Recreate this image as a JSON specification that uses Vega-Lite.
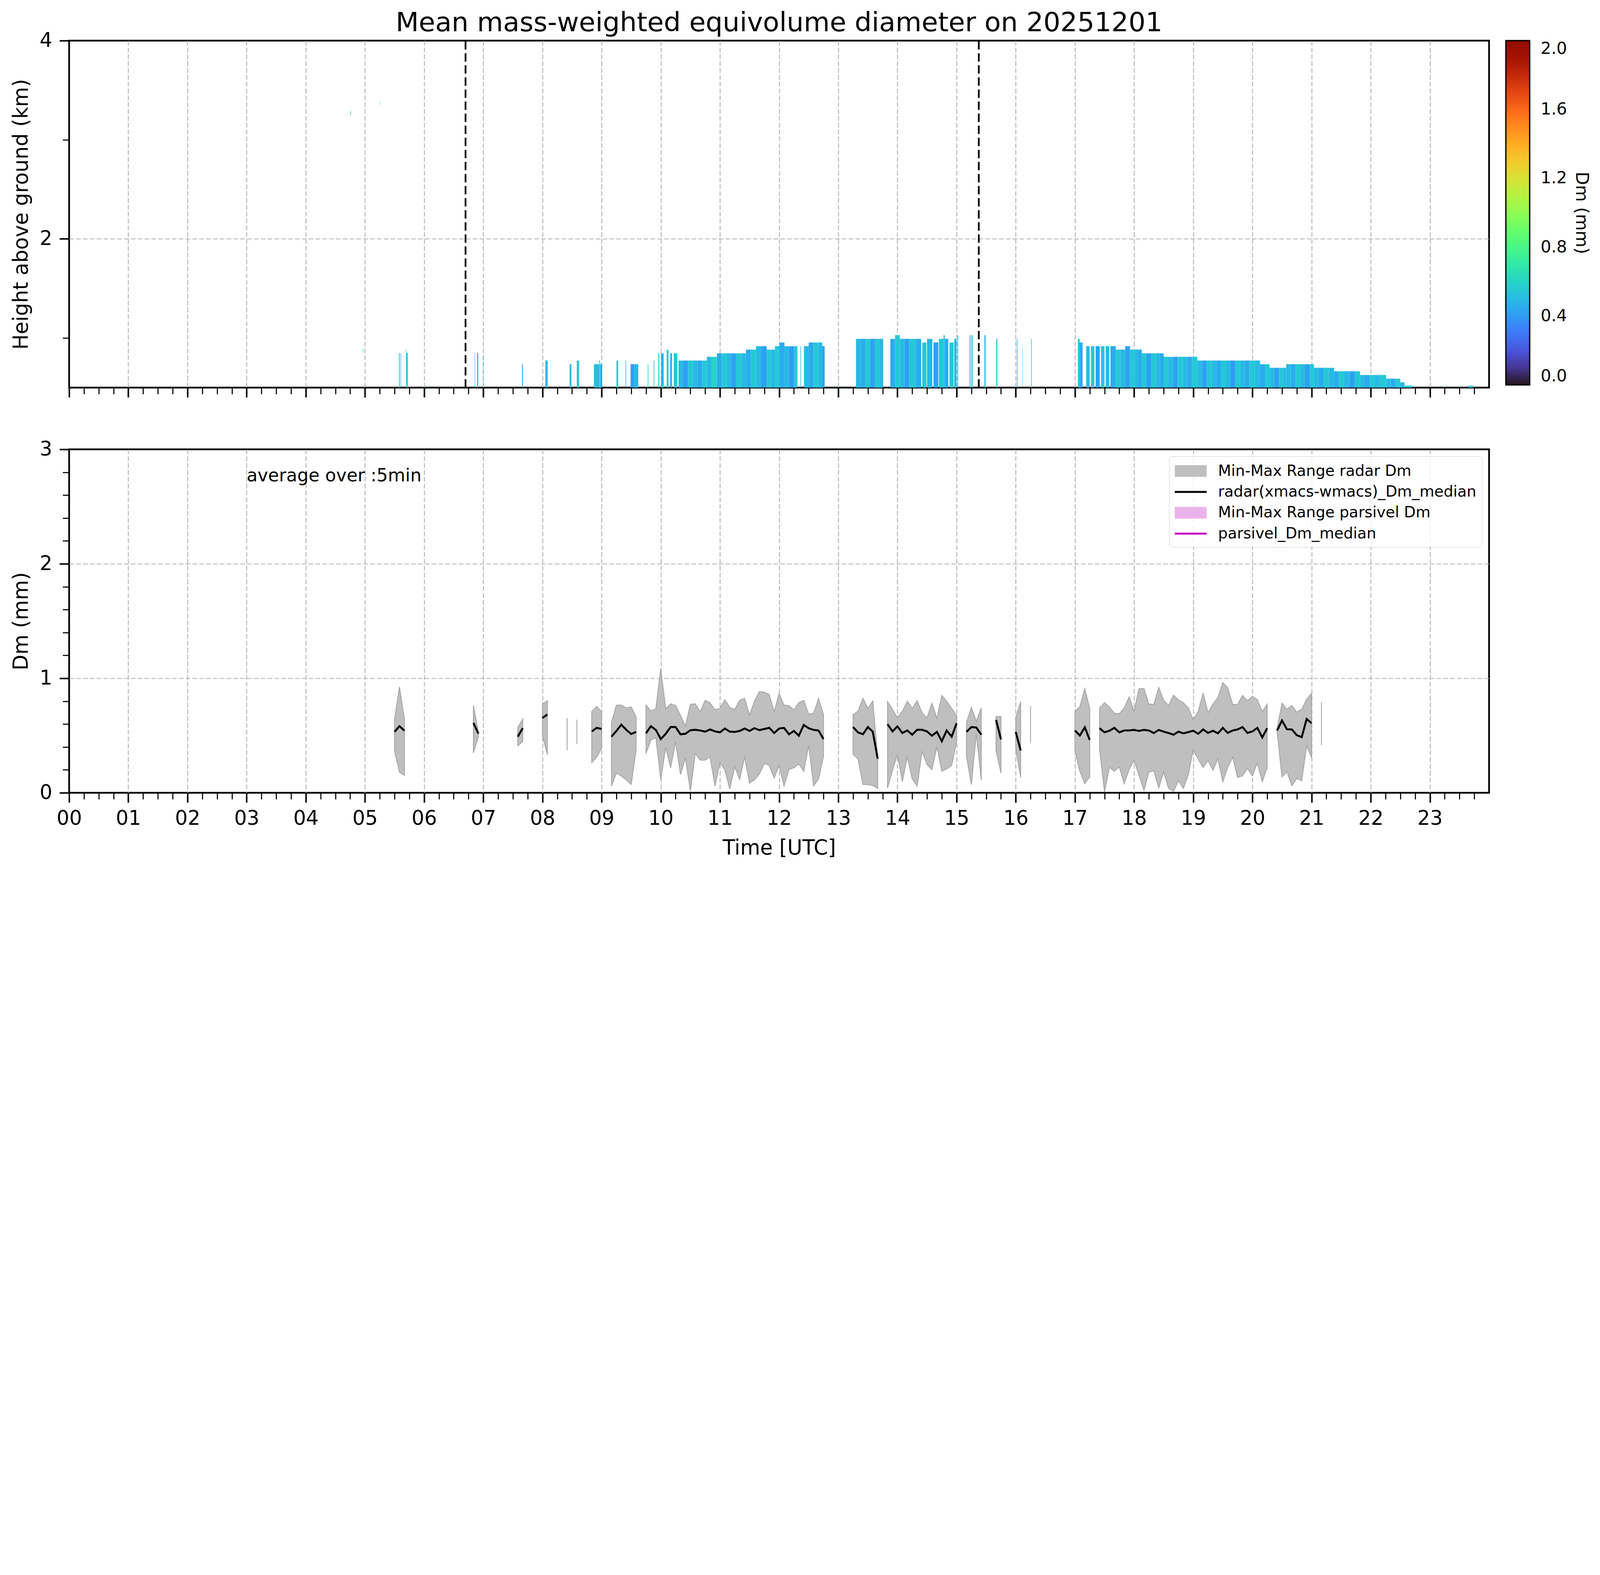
{
  "$schema": "https://vega.github.io/schema/vega-lite/v6.json",
  "padding": {"left": 25, "top": 22, "right": 5, "bottom": 5},
  "config": {
    "font": "DejaVu Sans",
    "view": {"stroke": "black", "strokeWidth": 4.4},
    "axis": {
      "labelFontSize": 51, "titleFontSize": 52.5, "titleFontWeight": "normal",
      "labelColor": "black", "titleColor": "black", "tickColor": "black",
      "tickSize": 24.8, "tickWidth": 3.9, "domain": false,
      "gridColor": "#b0b0b0", "gridDash": [12, 5.5], "gridWidth": 2.2, "gridOpacity": 1,
      "labelFlush": false, "labelOverlap": false, "zindex": 1, "labelPadding": 16.5, "grid": false
    },
    "axisY": {"labelPadding": 18.7, "titlePadding": 20, "minExtent": 76, "maxExtent": 76}
  },
  "datasets": {
    "radar": [
      {"t0":4.752,"t1":4.762,"bot":3.25,"top":3.29,"dm":0.65},
      {"t0":5.257,"t1":5.261,"bot":3.35,"top":3.39,"dm":0.5},
      {"t0":4.963,"t1":4.973,"bot":0.85,"top":0.89,"dm":0.65},
      {"t0":5.575,"t1":5.59,"bot":0.5,"top":0.85,"dm":0.62},
      {"t0":5.604,"t1":5.612,"bot":0.5,"top":0.85,"dm":0.5},
      {"t0":5.694,"t1":5.699,"bot":0.5,"top":0.89,"dm":0.42},
      {"t0":5.699,"t1":5.724,"bot":0.5,"top":0.85,"dm":0.55},
      {"t0":5.84,"t1":5.846,"bot":0.5,"top":0.52,"dm":0.55},
      {"t0":5.9,"t1":5.905,"bot":0.5,"top":0.52,"dm":0.45},
      {"t0":6.05,"t1":6.056,"bot":0.5,"top":0.52,"dm":0.55},
      {"t0":6.07,"t1":6.075,"bot":0.5,"top":0.52,"dm":0.55},
      {"t0":6.11,"t1":6.115,"bot":0.5,"top":0.52,"dm":0.6},
      {"t0":6.855,"t1":6.862,"bot":0.5,"top":0.85,"dm":0.55},
      {"t0":6.895,"t1":6.915,"bot":0.5,"top":0.85,"dm":0.52},
      {"t0":6.993,"t1":6.999,"bot":0.5,"top":0.82,"dm":0.5},
      {"t0":7.45,"t1":7.455,"bot":0.5,"top":0.52,"dm":0.55},
      {"t0":7.655,"t1":7.67,"bot":0.5,"top":0.736,"dm":0.45},
      {"t0":8.05,"t1":8.07,"bot":0.5,"top":0.773,"dm":0.42},
      {"t0":8.07,"t1":8.09,"bot":0.5,"top":0.773,"dm":0.55},
      {"t0":8.25,"t1":8.255,"bot":0.5,"top":0.52,"dm":0.55},
      {"t0":8.34,"t1":8.345,"bot":0.5,"top":0.52,"dm":0.45},
      {"t0":8.46,"t1":8.49,"bot":0.5,"top":0.736,"dm":0.5},
      {"t0":8.58,"t1":8.62,"bot":0.5,"top":0.773,"dm":0.55},
      {"t0":8.87,"t1":8.96,"bot":0.5,"top":0.736,"dm":0.52},
      {"t0":8.96,"t1":8.975,"bot":0.5,"top":0.773,"dm":0.68},
      {"t0":8.975,"t1":9.01,"bot":0.5,"top":0.736,"dm":0.45},
      {"t0":9.25,"t1":9.28,"bot":0.5,"top":0.773,"dm":0.6},
      {"t0":9.405,"t1":9.415,"bot":0.5,"top":0.773,"dm":0.5},
      {"t0":9.49,"t1":9.55,"bot":0.5,"top":0.736,"dm":0.4},
      {"t0":9.55,"t1":9.62,"bot":0.5,"top":0.736,"dm":0.5},
      {"t0":9.78,"t1":9.79,"bot":0.5,"top":0.736,"dm":0.55},
      {"t0":9.88,"t1":9.89,"bot":0.5,"top":0.773,"dm":0.5},
      {"t0":9.958,"t1":9.976,"bot":0.5,"top":0.846,"dm":0.6},
      {"t0":10.005,"t1":10.05,"bot":0.5,"top":0.846,"dm":0.5},
      {"t0":10.1,"t1":10.13,"bot":0.5,"top":0.883,"dm":0.55},
      {"t0":10.16,"t1":10.19,"bot":0.5,"top":0.846,"dm":0.45},
      {"t0":10.22,"t1":10.28,"bot":0.5,"top":0.846,"dm":0.55},
      {"t0":10.3,"t1":10.38,"bot":0.5,"top":0.773,"dm":0.5},
      {"t0":10.38,"t1":10.46,"bot":0.5,"top":0.773,"dm":0.42},
      {"t0":10.46,"t1":10.54,"bot":0.5,"top":0.773,"dm":0.55},
      {"t0":10.54,"t1":10.62,"bot":0.5,"top":0.773,"dm":0.5},
      {"t0":10.62,"t1":10.7,"bot":0.5,"top":0.773,"dm":0.45},
      {"t0":10.7,"t1":10.78,"bot":0.5,"top":0.773,"dm":0.55},
      {"t0":10.78,"t1":10.86,"bot":0.5,"top":0.81,"dm":0.5},
      {"t0":10.86,"t1":10.95,"bot":0.5,"top":0.81,"dm":0.6},
      {"t0":10.95,"t1":11.03,"bot":0.5,"top":0.846,"dm":0.45},
      {"t0":11.03,"t1":11.11,"bot":0.5,"top":0.846,"dm":0.55},
      {"t0":11.11,"t1":11.19,"bot":0.5,"top":0.846,"dm":0.5},
      {"t0":11.19,"t1":11.27,"bot":0.5,"top":0.846,"dm":0.42},
      {"t0":11.27,"t1":11.36,"bot":0.5,"top":0.846,"dm":0.55},
      {"t0":11.36,"t1":11.44,"bot":0.5,"top":0.846,"dm":0.5},
      {"t0":11.44,"t1":11.52,"bot":0.5,"top":0.883,"dm":0.45},
      {"t0":11.52,"t1":11.61,"bot":0.5,"top":0.883,"dm":0.55},
      {"t0":11.61,"t1":11.7,"bot":0.5,"top":0.918,"dm":0.5},
      {"t0":11.7,"t1":11.79,"bot":0.5,"top":0.918,"dm":0.42},
      {"t0":11.79,"t1":11.86,"bot":0.5,"top":0.883,"dm":0.55},
      {"t0":11.86,"t1":11.93,"bot":0.5,"top":0.883,"dm":0.5},
      {"t0":11.93,"t1":12.01,"bot":0.5,"top":0.918,"dm":0.55},
      {"t0":12.01,"t1":12.09,"bot":0.5,"top":0.955,"dm":0.45},
      {"t0":12.09,"t1":12.17,"bot":0.5,"top":0.918,"dm":0.5},
      {"t0":12.17,"t1":12.25,"bot":0.5,"top":0.918,"dm":0.4},
      {"t0":12.25,"t1":12.31,"bot":0.5,"top":0.918,"dm":0.55},
      {"t0":12.36,"t1":12.37,"bot":0.5,"top":0.918,"dm":0.5},
      {"t0":12.42,"t1":12.5,"bot":0.5,"top":0.918,"dm":0.5},
      {"t0":12.5,"t1":12.58,"bot":0.5,"top":0.955,"dm":0.45},
      {"t0":12.58,"t1":12.66,"bot":0.5,"top":0.955,"dm":0.55},
      {"t0":12.66,"t1":12.73,"bot":0.5,"top":0.955,"dm":0.5},
      {"t0":12.73,"t1":12.77,"bot":0.5,"top":0.918,"dm":0.42},
      {"t0":12.98,"t1":12.99,"bot":0.5,"top":0.52,"dm":0.55},
      {"t0":13.05,"t1":13.055,"bot":0.5,"top":0.52,"dm":0.5},
      {"t0":13.11,"t1":13.115,"bot":0.5,"top":0.52,"dm":0.55},
      {"t0":13.3,"t1":13.38,"bot":0.5,"top":0.992,"dm":0.5},
      {"t0":13.38,"t1":13.46,"bot":0.5,"top":0.992,"dm":0.45},
      {"t0":13.46,"t1":13.54,"bot":0.5,"top":0.992,"dm":0.55},
      {"t0":13.54,"t1":13.62,"bot":0.5,"top":0.992,"dm":0.42},
      {"t0":13.62,"t1":13.7,"bot":0.5,"top":0.992,"dm":0.55},
      {"t0":13.7,"t1":13.76,"bot":0.5,"top":0.992,"dm":0.5},
      {"t0":13.88,"t1":13.96,"bot":0.5,"top":0.992,"dm":0.45},
      {"t0":13.96,"t1":14.04,"bot":0.5,"top":1.029,"dm":0.55},
      {"t0":14.04,"t1":14.12,"bot":0.5,"top":0.992,"dm":0.5},
      {"t0":14.12,"t1":14.2,"bot":0.5,"top":0.992,"dm":0.42},
      {"t0":14.2,"t1":14.31,"bot":0.5,"top":0.992,"dm":0.55},
      {"t0":14.31,"t1":14.4,"bot":0.5,"top":0.992,"dm":0.45},
      {"t0":14.42,"t1":14.49,"bot":0.5,"top":0.955,"dm":0.55},
      {"t0":14.5,"t1":14.59,"bot":0.5,"top":0.992,"dm":0.5},
      {"t0":14.61,"t1":14.69,"bot":0.5,"top":0.955,"dm":0.42},
      {"t0":14.7,"t1":14.78,"bot":0.5,"top":0.992,"dm":0.55},
      {"t0":14.78,"t1":14.8,"bot":0.5,"top":1.029,"dm":0.5},
      {"t0":14.8,"t1":14.86,"bot":0.5,"top":0.992,"dm":0.45},
      {"t0":14.88,"t1":14.95,"bot":0.5,"top":0.955,"dm":0.55},
      {"t0":14.96,"t1":15.0,"bot":0.5,"top":0.992,"dm":0.5},
      {"t0":15.015,"t1":15.025,"bot":0.5,"top":1.029,"dm":0.45},
      {"t0":15.22,"t1":15.235,"bot":0.5,"top":1.029,"dm":0.5},
      {"t0":15.25,"t1":15.27,"bot":0.5,"top":1.029,"dm":0.55},
      {"t0":15.47,"t1":15.49,"bot":0.5,"top":1.029,"dm":0.5},
      {"t0":15.67,"t1":15.69,"bot":0.5,"top":0.992,"dm":0.55},
      {"t0":16.02,"t1":16.03,"bot":0.5,"top":0.992,"dm":0.5},
      {"t0":16.11,"t1":16.115,"bot":0.5,"top":0.9,"dm":0.5},
      {"t0":16.26,"t1":16.27,"bot":0.5,"top":0.992,"dm":0.55},
      {"t0":16.43,"t1":16.435,"bot":0.5,"top":0.52,"dm":0.5},
      {"t0":16.65,"t1":16.655,"bot":0.5,"top":0.52,"dm":0.45},
      {"t0":17.05,"t1":17.08,"bot":0.5,"top":0.992,"dm":0.55},
      {"t0":17.08,"t1":17.13,"bot":0.5,"top":0.955,"dm":0.45},
      {"t0":17.19,"t1":17.25,"bot":0.5,"top":0.918,"dm":0.5},
      {"t0":17.27,"t1":17.33,"bot":0.5,"top":0.918,"dm":0.55},
      {"t0":17.35,"t1":17.42,"bot":0.5,"top":0.918,"dm":0.42},
      {"t0":17.44,"t1":17.5,"bot":0.5,"top":0.918,"dm":0.55},
      {"t0":17.52,"t1":17.58,"bot":0.5,"top":0.918,"dm":0.5},
      {"t0":17.6,"t1":17.69,"bot":0.5,"top":0.918,"dm":0.45},
      {"t0":17.69,"t1":17.77,"bot":0.5,"top":0.883,"dm":0.55},
      {"t0":17.77,"t1":17.85,"bot":0.5,"top":0.883,"dm":0.5},
      {"t0":17.85,"t1":17.93,"bot":0.5,"top":0.918,"dm":0.42},
      {"t0":17.93,"t1":18.01,"bot":0.5,"top":0.883,"dm":0.55},
      {"t0":18.01,"t1":18.07,"bot":0.5,"top":0.883,"dm":0.5},
      {"t0":18.07,"t1":18.13,"bot":0.5,"top":0.883,"dm":0.45},
      {"t0":18.13,"t1":18.21,"bot":0.5,"top":0.846,"dm":0.55},
      {"t0":18.21,"t1":18.29,"bot":0.5,"top":0.846,"dm":0.42},
      {"t0":18.29,"t1":18.37,"bot":0.5,"top":0.846,"dm":0.55},
      {"t0":18.37,"t1":18.44,"bot":0.5,"top":0.846,"dm":0.5},
      {"t0":18.44,"t1":18.5,"bot":0.5,"top":0.846,"dm":0.45},
      {"t0":18.5,"t1":18.58,"bot":0.5,"top":0.81,"dm":0.55},
      {"t0":18.58,"t1":18.66,"bot":0.5,"top":0.81,"dm":0.5},
      {"t0":18.66,"t1":18.74,"bot":0.5,"top":0.81,"dm":0.42},
      {"t0":18.74,"t1":18.82,"bot":0.5,"top":0.81,"dm":0.55},
      {"t0":18.82,"t1":18.9,"bot":0.5,"top":0.81,"dm":0.5},
      {"t0":18.9,"t1":18.98,"bot":0.5,"top":0.81,"dm":0.45},
      {"t0":18.98,"t1":19.07,"bot":0.5,"top":0.81,"dm":0.55},
      {"t0":19.07,"t1":19.15,"bot":0.5,"top":0.773,"dm":0.5},
      {"t0":19.15,"t1":19.23,"bot":0.5,"top":0.773,"dm":0.42},
      {"t0":19.23,"t1":19.31,"bot":0.5,"top":0.773,"dm":0.55},
      {"t0":19.31,"t1":19.39,"bot":0.5,"top":0.773,"dm":0.5},
      {"t0":19.39,"t1":19.47,"bot":0.5,"top":0.773,"dm":0.45},
      {"t0":19.47,"t1":19.55,"bot":0.5,"top":0.773,"dm":0.55},
      {"t0":19.55,"t1":19.63,"bot":0.5,"top":0.773,"dm":0.5},
      {"t0":19.63,"t1":19.71,"bot":0.5,"top":0.773,"dm":0.4},
      {"t0":19.71,"t1":19.79,"bot":0.5,"top":0.773,"dm":0.55},
      {"t0":19.79,"t1":19.87,"bot":0.5,"top":0.773,"dm":0.5},
      {"t0":19.87,"t1":19.95,"bot":0.5,"top":0.773,"dm":0.45},
      {"t0":19.95,"t1":20.04,"bot":0.5,"top":0.773,"dm":0.55},
      {"t0":20.04,"t1":20.13,"bot":0.5,"top":0.773,"dm":0.5},
      {"t0":20.13,"t1":20.21,"bot":0.5,"top":0.736,"dm":0.45},
      {"t0":20.21,"t1":20.29,"bot":0.5,"top":0.736,"dm":0.55},
      {"t0":20.29,"t1":20.37,"bot":0.5,"top":0.7,"dm":0.5},
      {"t0":20.37,"t1":20.45,"bot":0.5,"top":0.7,"dm":0.42},
      {"t0":20.45,"t1":20.51,"bot":0.5,"top":0.7,"dm":0.55},
      {"t0":20.51,"t1":20.57,"bot":0.5,"top":0.7,"dm":0.5},
      {"t0":20.57,"t1":20.65,"bot":0.5,"top":0.736,"dm":0.5},
      {"t0":20.65,"t1":20.73,"bot":0.5,"top":0.736,"dm":0.45},
      {"t0":20.73,"t1":20.81,"bot":0.5,"top":0.736,"dm":0.55},
      {"t0":20.81,"t1":20.89,"bot":0.5,"top":0.736,"dm":0.5},
      {"t0":20.89,"t1":20.97,"bot":0.5,"top":0.736,"dm":0.42},
      {"t0":20.97,"t1":21.04,"bot":0.5,"top":0.736,"dm":0.55},
      {"t0":21.04,"t1":21.12,"bot":0.5,"top":0.7,"dm":0.5},
      {"t0":21.12,"t1":21.2,"bot":0.5,"top":0.7,"dm":0.45},
      {"t0":21.2,"t1":21.29,"bot":0.5,"top":0.7,"dm":0.55},
      {"t0":21.29,"t1":21.38,"bot":0.5,"top":0.7,"dm":0.5},
      {"t0":21.38,"t1":21.46,"bot":0.5,"top":0.665,"dm":0.45},
      {"t0":21.46,"t1":21.55,"bot":0.5,"top":0.665,"dm":0.55},
      {"t0":21.55,"t1":21.64,"bot":0.5,"top":0.665,"dm":0.5},
      {"t0":21.64,"t1":21.73,"bot":0.5,"top":0.665,"dm":0.42},
      {"t0":21.73,"t1":21.82,"bot":0.5,"top":0.665,"dm":0.55},
      {"t0":21.82,"t1":21.9,"bot":0.5,"top":0.627,"dm":0.5},
      {"t0":21.9,"t1":21.98,"bot":0.5,"top":0.627,"dm":0.45},
      {"t0":21.98,"t1":22.06,"bot":0.5,"top":0.627,"dm":0.55},
      {"t0":22.06,"t1":22.15,"bot":0.5,"top":0.627,"dm":0.5},
      {"t0":22.15,"t1":22.26,"bot":0.5,"top":0.627,"dm":0.55},
      {"t0":22.26,"t1":22.34,"bot":0.5,"top":0.59,"dm":0.5},
      {"t0":22.34,"t1":22.42,"bot":0.5,"top":0.59,"dm":0.45},
      {"t0":22.42,"t1":22.5,"bot":0.5,"top":0.59,"dm":0.55},
      {"t0":22.5,"t1":22.57,"bot":0.5,"top":0.554,"dm":0.5},
      {"t0":22.57,"t1":22.7,"bot":0.5,"top":0.52,"dm":0.55},
      {"t0":23.17,"t1":23.18,"bot":0.5,"top":0.52,"dm":0.45},
      {"t0":23.3,"t1":23.305,"bot":0.5,"top":0.52,"dm":0.55},
      {"t0":23.45,"t1":23.455,"bot":0.5,"top":0.52,"dm":0.6},
      {"t0":23.55,"t1":23.555,"bot":0.5,"top":0.52,"dm":0.5},
      {"t0":23.65,"t1":23.73,"bot":0.5,"top":0.52,"dm":0.55}
    ],
    "events": [{"t": 6.7}, {"t": 15.375}],
    "note": [{"label": "average over :5min"}],
    "dm5": [
      {"seg":"A","t":5.5,"lo":0.364,"med":0.532,"hi":0.641},
      {"seg":"A","t":5.583,"lo":0.18,"med":0.582,"hi":0.925},
      {"seg":"A","t":5.667,"lo":0.151,"med":0.542,"hi":0.645},
      {"seg":"B","t":6.833,"lo":0.348,"med":0.611,"hi":0.762},
      {"seg":"B","t":6.917,"lo":0.49,"med":0.517,"hi":0.53},
      {"seg":"C","t":7.583,"lo":0.41,"med":0.49,"hi":0.57},
      {"seg":"C","t":7.667,"lo":0.448,"med":0.565,"hi":0.645},
      {"seg":"D","t":8.0,"lo":0.498,"med":0.653,"hi":0.775},
      {"seg":"D","t":8.083,"lo":0.335,"med":0.684,"hi":0.804},
      {"seg":"S1","t":8.417,"lo":0.371,"hi":0.652},
      {"seg":"S2","t":8.583,"lo":0.425,"hi":0.639},
      {"seg":"E","t":8.833,"lo":0.264,"med":0.536,"hi":0.709},
      {"seg":"E","t":8.917,"lo":0.31,"med":0.567,"hi":0.754},
      {"seg":"E","t":9.0,"lo":0.389,"med":0.557,"hi":0.708},
      {"seg":"F","t":9.167,"lo":0.059,"med":0.49,"hi":0.616},
      {"seg":"F","t":9.25,"lo":0.172,"med":0.54,"hi":0.765},
      {"seg":"F","t":9.333,"lo":0.147,"med":0.595,"hi":0.766},
      {"seg":"F","t":9.417,"lo":0.113,"med":0.55,"hi":0.741},
      {"seg":"F","t":9.5,"lo":0.073,"med":0.513,"hi":0.75},
      {"seg":"F","t":9.583,"lo":0.373,"med":0.532,"hi":0.662},
      {"seg":"G","t":9.75,"lo":0.343,"med":0.519,"hi":0.766},
      {"seg":"G","t":9.833,"lo":0.461,"med":0.582,"hi":0.716},
      {"seg":"G","t":9.917,"lo":0.482,"med":0.549,"hi":0.733},
      {"seg":"G","t":10.0,"lo":0.117,"med":0.469,"hi":1.086},
      {"seg":"G","t":10.083,"lo":0.394,"med":0.515,"hi":0.733},
      {"seg":"G","t":10.167,"lo":0.218,"med":0.574,"hi":0.777},
      {"seg":"G","t":10.25,"lo":0.448,"med":0.574,"hi":0.762},
      {"seg":"G","t":10.333,"lo":0.159,"med":0.511,"hi":0.674},
      {"seg":"G","t":10.417,"lo":0.302,"med":0.515,"hi":0.582},
      {"seg":"G","t":10.5,"lo":0.017,"med":0.546,"hi":0.773},
      {"seg":"G","t":10.583,"lo":0.343,"med":0.55,"hi":0.777},
      {"seg":"G","t":10.667,"lo":0.285,"med":0.544,"hi":0.709},
      {"seg":"G","t":10.75,"lo":0.285,"med":0.534,"hi":0.807},
      {"seg":"G","t":10.833,"lo":0.314,"med":0.553,"hi":0.786},
      {"seg":"G","t":10.917,"lo":0.059,"med":0.536,"hi":0.724},
      {"seg":"G","t":11.0,"lo":0.264,"med":0.528,"hi":0.737},
      {"seg":"G","t":11.083,"lo":0.197,"med":0.561,"hi":0.812},
      {"seg":"G","t":11.167,"lo":0.034,"med":0.534,"hi":0.745},
      {"seg":"G","t":11.25,"lo":0.226,"med":0.532,"hi":0.729},
      {"seg":"G","t":11.333,"lo":0.117,"med":0.54,"hi":0.808},
      {"seg":"G","t":11.417,"lo":0.314,"med":0.561,"hi":0.825},
      {"seg":"G","t":11.5,"lo":0.084,"med":0.54,"hi":0.678},
      {"seg":"G","t":11.583,"lo":0.113,"med":0.564,"hi":0.8},
      {"seg":"G","t":11.667,"lo":0.163,"med":0.547,"hi":0.884},
      {"seg":"G","t":11.75,"lo":0.255,"med":0.557,"hi":0.879},
      {"seg":"G","t":11.833,"lo":0.239,"med":0.567,"hi":0.858},
      {"seg":"G","t":11.917,"lo":0.13,"med":0.522,"hi":0.708},
      {"seg":"G","t":12.0,"lo":0.239,"med":0.561,"hi":0.867},
      {"seg":"G","t":12.083,"lo":0.059,"med":0.567,"hi":0.766},
      {"seg":"G","t":12.167,"lo":0.205,"med":0.511,"hi":0.762},
      {"seg":"G","t":12.25,"lo":0.218,"med":0.54,"hi":0.724},
      {"seg":"G","t":12.333,"lo":0.251,"med":0.498,"hi":0.787},
      {"seg":"G","t":12.417,"lo":0.188,"med":0.592,"hi":0.807},
      {"seg":"G","t":12.5,"lo":0.415,"med":0.564,"hi":0.687},
      {"seg":"G","t":12.583,"lo":0.059,"med":0.549,"hi":0.693},
      {"seg":"G","t":12.667,"lo":0.121,"med":0.544,"hi":0.823},
      {"seg":"G","t":12.75,"lo":0.318,"med":0.469,"hi":0.683},
      {"seg":"H","t":13.25,"lo":0.335,"med":0.574,"hi":0.683},
      {"seg":"H","t":13.333,"lo":0.297,"med":0.528,"hi":0.712},
      {"seg":"H","t":13.417,"lo":0.073,"med":0.511,"hi":0.825},
      {"seg":"H","t":13.5,"lo":0.071,"med":0.574,"hi":0.737},
      {"seg":"H","t":13.583,"lo":0.063,"med":0.534,"hi":0.802},
      {"seg":"H","t":13.667,"lo":0.038,"med":0.297,"hi":0.306},
      {"seg":"I","t":13.833,"lo":0.042,"med":0.599,"hi":0.796},
      {"seg":"I","t":13.917,"lo":0.197,"med":0.536,"hi":0.729},
      {"seg":"I","t":14.0,"lo":0.335,"med":0.58,"hi":0.657},
      {"seg":"I","t":14.083,"lo":0.096,"med":0.522,"hi":0.712},
      {"seg":"I","t":14.167,"lo":0.314,"med":0.544,"hi":0.8},
      {"seg":"I","t":14.25,"lo":0.121,"med":0.507,"hi":0.737},
      {"seg":"I","t":14.333,"lo":0.059,"med":0.55,"hi":0.804},
      {"seg":"I","t":14.417,"lo":0.36,"med":0.55,"hi":0.699},
      {"seg":"I","t":14.5,"lo":0.247,"med":0.536,"hi":0.653},
      {"seg":"I","t":14.583,"lo":0.201,"med":0.498,"hi":0.783},
      {"seg":"I","t":14.667,"lo":0.402,"med":0.532,"hi":0.649},
      {"seg":"I","t":14.75,"lo":0.188,"med":0.45,"hi":0.85},
      {"seg":"I","t":14.833,"lo":0.209,"med":0.544,"hi":0.8},
      {"seg":"I","t":14.917,"lo":0.239,"med":0.49,"hi":0.737},
      {"seg":"I","t":15.0,"lo":0.448,"med":0.607,"hi":0.674},
      {"seg":"J","t":15.167,"lo":0.322,"med":0.532,"hi":0.616},
      {"seg":"J","t":15.25,"lo":0.071,"med":0.574,"hi":0.745},
      {"seg":"J","t":15.333,"lo":0.515,"med":0.57,"hi":0.624},
      {"seg":"J","t":15.417,"lo":0.113,"med":0.507,"hi":0.741},
      {"seg":"K","t":15.667,"lo":0.369,"med":0.637,"hi":0.666},
      {"seg":"K","t":15.75,"lo":0.172,"med":0.466,"hi":0.666},
      {"seg":"L","t":16.0,"lo":0.385,"med":0.532,"hi":0.657},
      {"seg":"L","t":16.083,"lo":0.134,"med":0.369,"hi":0.796},
      {"seg":"S3","t":16.25,"lo":0.44,"hi":0.758},
      {"seg":"M","t":17.0,"lo":0.364,"med":0.544,"hi":0.712},
      {"seg":"M","t":17.083,"lo":0.188,"med":0.5,"hi":0.75},
      {"seg":"M","t":17.167,"lo":0.08,"med":0.572,"hi":0.909},
      {"seg":"M","t":17.25,"lo":0.138,"med":0.461,"hi":0.737},
      {"seg":"N","t":17.417,"lo":0.377,"med":0.564,"hi":0.741},
      {"seg":"N","t":17.5,"lo":0.008,"med":0.528,"hi":0.787},
      {"seg":"N","t":17.583,"lo":0.222,"med":0.542,"hi":0.75},
      {"seg":"N","t":17.667,"lo":0.188,"med":0.567,"hi":0.693},
      {"seg":"N","t":17.75,"lo":0.226,"med":0.528,"hi":0.691},
      {"seg":"N","t":17.833,"lo":0.08,"med":0.544,"hi":0.741},
      {"seg":"N","t":17.917,"lo":0.205,"med":0.544,"hi":0.838},
      {"seg":"N","t":18.0,"lo":0.281,"med":0.549,"hi":0.712},
      {"seg":"N","t":18.083,"lo":0.155,"med":0.54,"hi":0.909},
      {"seg":"N","t":18.167,"lo":0.021,"med":0.549,"hi":0.91},
      {"seg":"N","t":18.25,"lo":0.18,"med":0.544,"hi":0.775},
      {"seg":"N","t":18.333,"lo":0.193,"med":0.522,"hi":0.771},
      {"seg":"N","t":18.417,"lo":0.042,"med":0.549,"hi":0.92},
      {"seg":"N","t":18.5,"lo":0.18,"med":0.534,"hi":0.808},
      {"seg":"N","t":18.583,"lo":0.038,"med":0.522,"hi":0.762},
      {"seg":"N","t":18.667,"lo":0.013,"med":0.507,"hi":0.852},
      {"seg":"N","t":18.75,"lo":0.105,"med":0.534,"hi":0.812},
      {"seg":"N","t":18.833,"lo":0.038,"med":0.519,"hi":0.787},
      {"seg":"N","t":18.917,"lo":0.159,"med":0.53,"hi":0.741},
      {"seg":"N","t":19.0,"lo":0.377,"med":0.542,"hi":0.637},
      {"seg":"N","t":19.083,"lo":0.293,"med":0.515,"hi":0.708},
      {"seg":"N","t":19.167,"lo":0.222,"med":0.553,"hi":0.871},
      {"seg":"N","t":19.25,"lo":0.281,"med":0.523,"hi":0.699},
      {"seg":"N","t":19.333,"lo":0.197,"med":0.542,"hi":0.775},
      {"seg":"N","t":19.417,"lo":0.297,"med":0.519,"hi":0.833},
      {"seg":"N","t":19.5,"lo":0.096,"med":0.567,"hi":0.963},
      {"seg":"N","t":19.583,"lo":0.222,"med":0.523,"hi":0.917},
      {"seg":"N","t":19.667,"lo":0.31,"med":0.544,"hi":0.771},
      {"seg":"N","t":19.75,"lo":0.134,"med":0.553,"hi":0.771},
      {"seg":"N","t":19.833,"lo":0.147,"med":0.574,"hi":0.85},
      {"seg":"N","t":19.917,"lo":0.214,"med":0.523,"hi":0.804},
      {"seg":"N","t":20.0,"lo":0.147,"med":0.536,"hi":0.842},
      {"seg":"N","t":20.083,"lo":0.26,"med":0.567,"hi":0.812},
      {"seg":"N","t":20.167,"lo":0.096,"med":0.483,"hi":0.708},
      {"seg":"N","t":20.25,"lo":0.222,"med":0.564,"hi":0.775},
      {"seg":"O","t":20.417,"lo":0.536,"med":0.544,"hi":0.557},
      {"seg":"O","t":20.5,"lo":0.138,"med":0.632,"hi":0.783},
      {"seg":"O","t":20.583,"lo":0.184,"med":0.555,"hi":0.729},
      {"seg":"O","t":20.667,"lo":0.063,"med":0.553,"hi":0.762},
      {"seg":"O","t":20.75,"lo":0.126,"med":0.503,"hi":0.704},
      {"seg":"O","t":20.833,"lo":0.105,"med":0.486,"hi":0.729},
      {"seg":"O","t":20.917,"lo":0.41,"med":0.645,"hi":0.817},
      {"seg":"O","t":21.0,"lo":0.306,"med":0.607,"hi":0.868},
      {"seg":"S4","t":21.167,"lo":0.415,"hi":0.791}
    ]
  },
  "spacing": 158,
  "bounds": "flush",
  "resolve": {"scale": {"color": "independent", "shape": "independent"}, "legend": {"color": "independent", "shape": "independent"}},
  "vconcat": [
    {
      "width": 3635,
      "height": 888,
      "title": {"text": "Mean mass-weighted equivolume diameter on 20251201", "fontSize": 68.5, "fontWeight": "normal", "color": "black", "anchor": "middle", "frame": "group", "offset": -16},
      "layer": [
        {
          "data": {"name": "radar"},
          "mark": {"type": "rect"},
          "encoding": {
            "x": {"field": "t0", "type": "quantitative", "scale": {"domain": [0, 24], "nice": false, "zero": false},
              "axis": {"orient": "bottom", "values": [1,2,3,4,5,6,7,8,9,10,11,12,13,14,15,16,17,18,19,20,21,22,23], "labels": false, "title": null, "grid": true}},
            "x2": {"field": "t1"},
            "y": {"field": "bot", "type": "quantitative", "scale": {"domain": [0.5, 4], "nice": false, "zero": false},
              "axis": {"orient": "left", "values": [2], "title": "Height above ground (km)", "grid": true}},
            "y2": {"field": "top"},
            "color": {"field": "dm", "type": "quantitative", "scale": {"scheme": "turbo", "domain": [0, 2]},
              "legend": {"orient": "right", "offset": 43, "direction": "vertical", "gradientLength": 881, "gradientThickness": 61,
                "values": [0, 0.4, 0.8, 1.2, 1.6, 2.0], "format": ".1f", "labelFontSize": 42.5, "labelOffset": 28, "labelOverlap": false, "labelColor": "black",
                "title": "Dm (mm)", "titleOrient": "right", "titleLimit": 1000, "titleFontSize": 44, "titleFontWeight": "normal", "titleColor": "black", "titleAnchor": "middle", "titlePadding": 14,
                "gradientStrokeColor": "black", "gradientStrokeWidth": 3.3}}
          }
        },
        {
          "data": {"name": "events"},
          "transform": [{"filter": "datum.t < 12"}],
          "mark": {"type": "rule", "color": "black", "strokeWidth": 4.4, "strokeDash": [21.5, 9.4]},
          "encoding": {
            "x": {"field": "t", "type": "quantitative",
              "axis": {"orient": "bottom", "values": [0.25,0.5,0.75,1.25,1.5,1.75,2.25,2.5,2.75,3.25,3.5,3.75,4.25,4.5,4.75,5.25,5.5,5.75,6.25,6.5,6.75,7.25,7.5,7.75,8.25,8.5,8.75,9.25,9.5,9.75,10.25,10.5,10.75,11.25,11.5,11.75,12.25,12.5,12.75,13.25,13.5,13.75,14.25,14.5,14.75,15.25,15.5,15.75,16.25,16.5,16.75,17.25,17.5,17.75,18.25,18.5,18.75,19.25,19.5,19.75,20.25,20.5,20.75,21.25,21.5,21.75,22.25,22.5,22.75,23.25,23.5,23.75], "labels": false, "title": null, "tickSize": 16.5, "tickWidth": 2.75}},
            "y": {"datum": 0.5, "type": "quantitative",
              "axis": {"orient": "left", "values": [1, 3], "labels": false, "title": null, "tickSize": 16.5, "tickWidth": 2.75}},
            "y2": {"datum": 4}
          }
        },
        {
          "data": {"name": "events"},
          "transform": [{"filter": "datum.t >= 12"}],
          "mark": {"type": "rule", "color": "black", "strokeWidth": 4.4, "strokeDash": [21.5, 9.4]},
          "encoding": {
            "x": {"field": "t", "type": "quantitative",
              "axis": {"orient": "bottom", "values": [0], "labels": false, "title": null}},
            "y": {"datum": 0.5, "type": "quantitative",
              "axis": {"orient": "left", "values": [4], "title": null}},
            "y2": {"datum": 4}
          }
        }
      ],
      "resolve": {"axis": {"x": "independent", "y": "independent"}}
    },
    {
      "width": 3635,
      "height": 879,
      "layer": [
        {
          "data": {"name": "dm5"},
          "transform": [{"joinaggregate": [{"op": "count", "as": "n"}], "groupby": ["seg"]}, {"filter": "datum.n > 1"}],
          "mark": {"type": "area", "stroke": "#a6a6a6", "strokeWidth": 2.2},
          "encoding": {
            "x": {"field": "t", "type": "quantitative", "scale": {"domain": [0, 24], "nice": false, "zero": false},
              "axis": {"orient": "bottom", "values": [1,2,3,4,5,6,7,8,9,10,11,12,13,14,15,16,17,18,19,20,21,22,23], "labelExpr": "(datum.value < 10 ? '0' : '') + datum.value", "title": "Time [UTC]", "titlePadding": 25, "grid": true}},
            "y": {"field": "hi", "type": "quantitative", "scale": {"domain": [0, 3], "nice": false},
              "axis": {"orient": "left", "values": [1, 2], "title": "Dm (mm)", "grid": true}},
            "y2": {"field": "lo"},
            "detail": {"field": "seg"},
            "color": {"datum": "Min-Max Range radar Dm", "type": "nominal",
              "scale": {"domain": ["Min-Max Range radar Dm", "radar(xmacs-wmacs)_Dm_median", "Min-Max Range parsivel Dm", "parsivel_Dm_median"], "range": ["#bfbfbf", "#000000", "#ebb3eb", "#c000c0"]},
              "legend": {"title": null, "orient": "top-right", "offset": 18, "labelFontSize": 38.8, "labelColor": "black", "labelLimit": 2000,
                "symbolSize": 2116, "symbolOpacity": 1, "symbolStrokeWidth": 0, "rowPadding": 10.4, "labelOffset": 64.8, "padding": 14.5,
                "fillColor": "rgba(255,255,255,0.8)", "strokeColor": "#cccccc", "cornerRadius": 9}}
          }
        },
        {
          "data": {"name": "dm5"},
          "transform": [{"joinaggregate": [{"op": "count", "as": "n"}], "groupby": ["seg"]}, {"filter": "datum.n > 1"}],
          "mark": {"type": "line", "strokeWidth": 5},
          "encoding": {
            "x": {"field": "t", "type": "quantitative",
              "axis": {"orient": "bottom", "values": [0.25,0.5,0.75,1.25,1.5,1.75,2.25,2.5,2.75,3.25,3.5,3.75,4.25,4.5,4.75,5.25,5.5,5.75,6.25,6.5,6.75,7.25,7.5,7.75,8.25,8.5,8.75,9.25,9.5,9.75,10.25,10.5,10.75,11.25,11.5,11.75,12.25,12.5,12.75,13.25,13.5,13.75,14.25,14.5,14.75,15.25,15.5,15.75,16.25,16.5,16.75,17.25,17.5,17.75,18.25,18.5,18.75,19.25,19.5,19.75,20.25,20.5,20.75,21.25,21.5,21.75,22.25,22.5,22.75,23.25,23.5,23.75], "labels": false, "title": null, "tickSize": 16.5, "tickWidth": 2.75}},
            "y": {"field": "med", "type": "quantitative",
              "axis": {"orient": "left", "values": [0.2,0.4,0.6,0.8,1.2,1.4,1.6,1.8,2.2,2.4,2.6,2.8], "labels": false, "title": null, "tickSize": 16.5, "tickWidth": 2.75}},
            "detail": {"field": "seg"},
            "color": {"datum": "radar(xmacs-wmacs)_Dm_median", "type": "nominal"}
          }
        },
        {
          "data": {"name": "dm5"},
          "transform": [{"joinaggregate": [{"op": "count", "as": "n"}], "groupby": ["seg"]}, {"filter": "datum.n == 1"}],
          "mark": {"type": "rule", "color": "#a6a6a6", "strokeWidth": 2.2},
          "encoding": {
            "x": {"field": "t", "type": "quantitative",
              "axis": {"orient": "bottom", "values": [0], "labelExpr": "'00'", "title": null}},
            "y": {"field": "hi", "type": "quantitative",
              "axis": {"orient": "left", "values": [0, 3], "title": null}},
            "y2": {"field": "lo"}
          }
        },
        {
          "data": {"name": "note"},
          "mark": {"type": "text", "fontSize": 45.6, "align": "left", "baseline": "alphabetic", "color": "black"},
          "encoding": {
            "text": {"field": "label"},
            "x": {"datum": 3, "type": "quantitative", "axis": null},
            "y": {"datum": 2.72, "type": "quantitative", "axis": null}
          }
        },
        {
          "data": {"name": "dm5"},
          "transform": [{"joinaggregate": [{"op": "count", "as": "n"}], "groupby": ["seg"]}, {"filter": "datum.n > 1"}],
          "mark": {"type": "point", "filled": true, "opacity": 0},
          "encoding": {
            "x": {"field": "t", "type": "quantitative", "axis": null},
            "y": {"field": "med", "type": "quantitative", "axis": null},
            "color": {"datum": "radar(xmacs-wmacs)_Dm_median", "type": "nominal"},
            "shape": {"datum": "radar(xmacs-wmacs)_Dm_median", "type": "nominal",
              "scale": {"domain": ["Min-Max Range radar Dm", "radar(xmacs-wmacs)_Dm_median", "Min-Max Range parsivel Dm", "parsivel_Dm_median"],
                "range": ["M-1,-0.652H2.543V0.652H-1Z", "M-1,-0.109H2.543V0.109H-1Z", "M-1,-0.652H2.543V0.652H-1Z", "M-1,-0.109H2.543V0.109H-1Z"]},
              "legend": {"title": null, "orient": "top-right", "offset": 18, "labelFontSize": 38.8, "labelColor": "black", "labelLimit": 2000,
                "symbolSize": 2116, "symbolOpacity": 1, "symbolStrokeWidth": 0, "rowPadding": 10.4, "labelOffset": 64.8, "padding": 14.5,
                "fillColor": "rgba(255,255,255,0.8)", "strokeColor": "#cccccc", "cornerRadius": 9}}
          }
        }
      ],
      "resolve": {"axis": {"x": "independent", "y": "independent"}}
    }
  ]
}
